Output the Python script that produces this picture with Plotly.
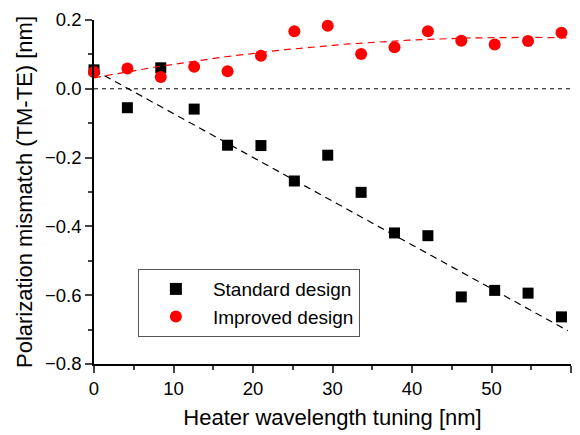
import numpy as np
import plotly.graph_objects as go

tuning = [0, 4.2, 8.4, 12.6, 16.8, 21.0, 25.2, 29.4, 33.6, 37.8, 42.0, 46.2, 50.4, 54.6, 58.8]
standard = [0.055, -0.055, 0.061, -0.059, -0.164, -0.165, -0.268, -0.193, -0.301,
            -0.419, -0.427, -0.605, -0.586, -0.594, -0.663]
improved = [0.049, 0.059, 0.034, 0.064, 0.051, 0.096, 0.167, 0.183, 0.101,
            0.121, 0.167, 0.140, 0.129, 0.139, 0.163]

# fit curves (polynomial coefficients, highest power first)
fit_standard = [-0.01272, 0.055]
fit_improved = [-4.07e-5, 0.004374, 0.032]
fit_range = [0, 59.6]

fit_x = np.linspace(fit_range[0], fit_range[1], 120)

FONT = "Liberation Sans, Arial, sans-serif"
fig = go.Figure()

fig.add_trace(go.Scatter(x=[0, 60], y=[0, 0], mode="lines",
                         line=dict(color="black", width=1, dash="4px,4px"),
                         showlegend=False, hoverinfo="skip"))
fig.add_trace(go.Scatter(x=fit_x, y=np.polyval(fit_standard, fit_x), mode="lines",
                         line=dict(color="black", width=1.2, dash="7px,5px"),
                         showlegend=False))
fig.add_trace(go.Scatter(x=tuning, y=standard, mode="markers", name="Standard design",
                         marker=dict(symbol="square", size=11, color="black"),
                         cliponaxis=False))
fig.add_trace(go.Scatter(x=fit_x, y=np.polyval(fit_improved, fit_x), mode="lines",
                         line=dict(color="red", width=1.2, dash="7px,5px"),
                         showlegend=False))
fig.add_trace(go.Scatter(x=tuning, y=improved, mode="markers", name="Improved design",
                         marker=dict(symbol="circle", size=12, color="red"),
                         cliponaxis=False))

fig.update_layout(
    width=580, height=435,
    margin=dict(l=94, r=9, t=18, b=66),
    plot_bgcolor="white", paper_bgcolor="white",
    font=dict(family=FONT, size=18.5, color="black"),
    showlegend=True,
    legend=dict(x=0.092, y=0.276, xanchor="left", yanchor="top",
                bordercolor="#555555", borderwidth=1, bgcolor="white",
                font=dict(size=19, family=FONT), tracegroupgap=0,
                itemwidth=64, itemsizing="constant"),
    xaxis=dict(range=[0, 60], showline=True, linecolor="black", linewidth=1.5,
               ticks="outside", ticklen=7, tickwidth=1.5, dtick=10, tick0=0,
               showgrid=False, zeroline=False, mirror=False,
               minor=dict(ticks="outside", ticklen=4, tickwidth=1.5, dtick=5, tick0=0),
               title=dict(text="Heater wavelength tuning [nm]", standoff=12),
               tickfont=dict(size=18.5)),
    yaxis=dict(range=[-0.8, 0.2], showline=True, linecolor="black", linewidth=1.5,
               ticks="outside", ticklen=7, tickwidth=1.5, dtick=0.2, tick0=0,
               tickformat=".1f", showgrid=False, zeroline=False,
               minor=dict(ticks="outside", ticklen=4, tickwidth=1.5, dtick=0.1, tick0=0),
               title=dict(text="Polarization mismatch (TM-TE) [nm]", standoff=6),
               tickfont=dict(size=18.5)),
)

fig.write_html("out.html")
